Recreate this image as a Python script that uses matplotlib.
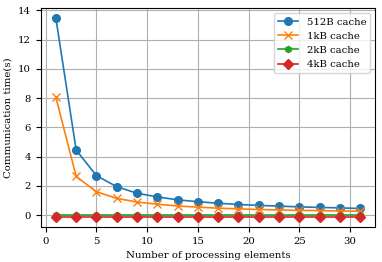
import matplotlib
matplotlib.use("Agg")
import matplotlib.pyplot as plt

plt.rcParams['font.family'] = ['DejaVu Serif']
plt.rcParams['font.size'] = 7.3

pe = [1, 3, 5, 7, 9, 11, 13, 15, 17, 19, 21, 23, 25, 27, 29, 31]
t_512B = [13.45, 4.45, 2.7, 1.95, 1.5, 1.25, 1.05, 0.92, 0.82, 0.73, 0.67, 0.62, 0.57, 0.53, 0.50, 0.46]
t_1kB = [8.05, 2.65, 1.6, 1.15, 0.9, 0.75, 0.63, 0.55, 0.48, 0.43, 0.39, 0.36, 0.33, 0.31, 0.29, 0.27]
t_2kB = [0.03] * 16
t_4kB = [-0.12] * 16

fig = plt.figure(figsize=(3.82, 2.62), dpi=100)
ax = fig.add_axes([0.1065, 0.134, 0.876, 0.834])
ax.plot(pe, t_512B, marker='o', markersize=5.5, lw=1.2, label='512B cache', color='#1f77b4')
ax.plot(pe, t_1kB, marker='x', markersize=5.5, lw=1.2, label='1kB cache', color='#ff7f0e')
ax.plot(pe, t_2kB, marker='h', markersize=4.5, lw=1.2, label='2kB cache', color='#2ca02c')
ax.plot(pe, t_4kB, marker='D', markersize=5, lw=1.2, label='4kB cache', color='#d62728')
ax.set_xlabel('Number of processing elements')
ax.set_ylabel('Communication time(s)')
ax.set_xticks([0, 5, 10, 15, 20, 25, 30])
ax.set_yticks([0, 2, 4, 6, 8, 10, 12, 14])
ax.grid(True)
ax.legend(loc='upper right')
fig.savefig('out.png', dpi=100)
